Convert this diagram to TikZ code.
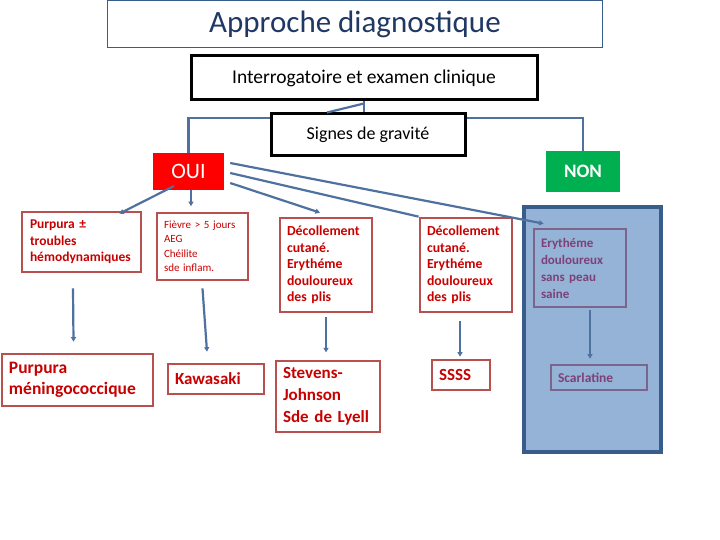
\documentclass[tikz,border=0pt]{standalone}
\usepackage{fontspec}
\setmainfont{Carlito}
\usetikzlibrary{arrows.meta,calc,backgrounds}
\definecolor{titleblue}{RGB}{31,56,100}
\definecolor{titleframe}{RGB}{56,93,138}
\definecolor{lineblue}{RGB}{79,113,160}
\definecolor{boxred}{RGB}{185,80,80}
\definecolor{txtred}{RGB}{200,0,0}
\definecolor{ouired}{RGB}{255,0,0}
\definecolor{nongreen}{RGB}{0,176,80}
\definecolor{panelfill}{RGB}{149,179,215}
\definecolor{panelframe}{RGB}{56,93,138}
\definecolor{purpframe}{RGB}{125,100,140}
\definecolor{purptxt}{RGB}{125,65,120}
\tikzset{
  conn/.style={draw=lineblue, line width=2.2pt},
  arr/.style={conn, -{Triangle[length=4.5pt,width=5pt]}},
  blackbox/.style={draw=black, line width=3pt, fill=white, inner sep=0pt},
  redbox/.style={draw=boxred, line width=2.7pt, fill=white, text=txtred, align=left, inner ysep=0pt},
  purpbox/.style={draw=purpframe, line width=2.7pt, text=purptxt, align=left, inner ysep=0pt},
}
\begin{document}
\begin{tikzpicture}[x=1pt,y=-1pt]
\useasboundingbox (0,0) rectangle (720,540);
% title
\node[draw=titleframe, line width=1pt, text=titleblue, minimum width=495pt, minimum height=47pt, inner sep=0pt,
  font=\fontsize{31}{36}\selectfont] (title) at (355,24) {Approche diagnostique};
% top boxes
\node[blackbox, minimum width=346pt, minimum height=44pt, font=\fontsize{19.5}{23}\selectfont] (interro) at (364,78) {Interrogatoire et examen clinique};
\node[blackbox, minimum width=194pt, minimum height=42pt, font=\fontsize{18}{21}\selectfont] (signes) at (368,135) {Signes de gravité};
\node[fill=ouired, text=white, minimum width=71pt, minimum height=37pt, inner sep=0pt, font=\fontsize{22}{26}\selectfont] (oui) at (188.5,171.5) {OUI};
\node[fill=nongreen, text=white, minimum width=74pt, minimum height=41pt, inner sep=0pt, font=\fontsize{19}{23}\selectfont\bfseries] (non) at (583,171.5) {NON};
% branch behind signes
\coordinate (bend) at (0,118);
\begin{scope}[on background layer]
\draw[conn] (oui.north) -- (oui.north |- bend) -- (non.north |- bend) -- (non.north);
\end{scope}
\draw[conn] (interro.south) -- (interro.south |- signes.north);
\draw[conn] ($(interro.south)+(0,2)$) -- ($(signes.north)+(-41,0)$);
% blue panel
\node[draw=panelframe, fill=panelfill, line width=3.5pt, minimum width=137pt, minimum height=245pt, inner sep=0pt] (panel) at (592.5,329.5) {};
% row 1
\node[redbox, text width=103pt, inner xsep=8pt, minimum height=60pt, font=\fontsize{13.5}{16.5}\selectfont\bfseries] (purp) at (81.5,242) {Purpura ±\\troubles\\hémodynamiques};
\node[redbox, text width=77pt, inner xsep=7pt, minimum height=67pt, font=\fontsize{11}{14.5}\selectfont] (fievre) at (202.5,246.5) {Fièvre > 5 jours\\AEG\\Chéilite\\sde inflam.};
\node[redbox, text width=78pt, inner xsep=7pt, minimum height=94pt, font=\fontsize{13.8}{16.5}\selectfont\bfseries] (d1) at (326,265) {Décollement\\cutané.\\Erythéme\\douloureux\\des plis};
\node[redbox, text width=78pt, inner xsep=7pt, minimum height=94pt, font=\fontsize{13.8}{16.5}\selectfont\bfseries] (d2) at (466,265) {Décollement\\cutané.\\Erythéme\\douloureux\\des plis};
\node[purpbox, text width=78pt, inner xsep=7pt, minimum height=78pt, font=\fontsize{13}{17}\selectfont\bfseries] (ery) at (580,268) {Erythéme\\douloureux\\sans peau\\saine};
% row 2
\node[redbox, text width=137pt, inner xsep=7pt, minimum height=52pt, font=\fontsize{17.5}{21}\selectfont\bfseries] (mening) at (77.5,380) {Purpura\\méningococcique};
\node[redbox, text width=82pt, inner xsep=7pt, minimum height=30pt, font=\fontsize{17}{21}\selectfont\bfseries] (kawa) at (216,379) {Kawasaki};
\node[redbox, line width=1.3pt, text width=90pt, inner xsep=7pt, minimum height=71pt, font=\fontsize{17}{22}\selectfont\bfseries] (stev) at (328,396.5) {Stevens-\\Johnson\\Sde de Lyell};
\node[redbox, text width=44pt, inner xsep=7pt, minimum height=30pt, font=\fontsize{17}{21}\selectfont\bfseries] (ssss) at (461,375) {SSSS};
\node[purpbox, text width=82pt, inner xsep=7pt, minimum height=25pt, font=\fontsize{13.5}{16}\selectfont\bfseries] (scarl) at (599,377.5) {Scarlatine};
% connectors from OUI
\draw[arr] ($(oui.center)+(-14.5,14.5)$) -- ($(purp.north east)+(-23,3)$);
\draw[arr] ($(oui.south)+(2.5,0)$) -- ($(oui.south)+(2.5,16)$);
\draw[arr] ($(oui.east)+(6,11.5)$) -- ($(d1.north)+(-6,-4)$);
\draw[conn] ($(oui.east)+(6,1.5)$) -- (d2.north west);
\draw[arr] ($(oui.east)+(6,-8.5)$) -- ($(ery.north west)+(11,-4)$);
% vertical arrows
\draw[arr] ($(purp.south)+(-8.5,15)$) -- ($(mening.north)+(-4,-11)$);
\draw[arr] ($(fievre.south)+(0,7)$) -- ($(kawa.north)+(-9,-11)$);
\draw[arr] ($(d1.south)+(0,4)$) -- ($(stev.north)+(-2,-8)$);
\draw[arr] ($(d2.south)+(-6,8)$) -- ($(ssss.north)+(-1,-2)$);
\draw[arr] ($(ery.south)+(10,2)$) -- ($(scarl.north)+(-9,-5)$);
\end{tikzpicture}
\end{document}
